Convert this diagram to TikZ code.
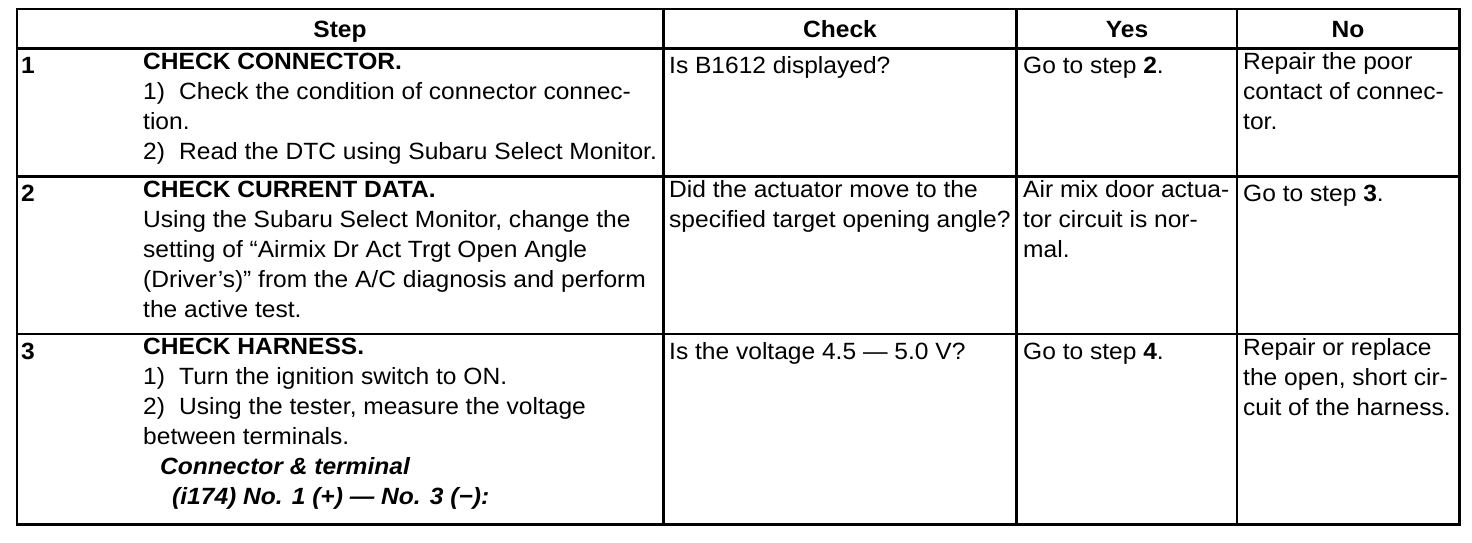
\documentclass[tikz,border=0pt]{standalone}
\usepackage{fontspec}
\setmainfont{Liberation Sans}[FakeStretch=1.045]
\usetikzlibrary{positioning}

\begin{document}
\begin{tikzpicture}[x=1pt,y=-1pt,
  cell/.style={anchor=north west,inner sep=0pt,align=left,font=\fontsize{23.5}{30}\selectfont,execute at begin node=\strut},
  head/.style={anchor=base,inner sep=0pt,font=\fontsize{23.5}{30}\selectfont\bfseries},
  num/.style={cell,font=\fontsize{23.5}{30}\selectfont\bfseries},
  rule/.style={line width=2.2pt}]
\useasboundingbox (0,0) rectangle (1472,542);

\draw[line width=2.8pt] (17,9) rectangle (1459.5,524.5);
\foreach \y in {48.5,176.5,334} {
\draw[rule] (17,\y) -- (1459.5,\y);
}
\foreach \x in {663.5,1016.5,1237} {
\draw[rule] (\x,9) -- (\x,524.5);
}

\node[head] (hstep) at (340,37) {Step};
\node[head] (hcheck) at (840,37) {Check};
\node[head] (hyes) at (1127,37) {Yes};
\node[head] (hno) at (1348,37) {No};

\node[num] (n1) at (21,52.5) {1};
\node[cell] (s1) at (143,52.5) {\textbf{CHECK CONNECTOR.}\\1)\hspace{0.6em}Check the condition of connector connec-\\tion.\\2)\hspace{0.6em}Read the DTC using Subaru Select Monitor.};
\node[cell] (c1) at (669,52.5) {Is B1612 displayed?};
\node[cell] (y1) at (1023,52.5) {Go to step \textbf{2}.};
\node[cell] (o1) at (1243,52.5) {Repair the poor\\contact of connec-\\tor.};

\node[num] (n2) at (21,180.5) {2};
\node[cell] (s2) at (143,180.5) {\textbf{CHECK CURRENT DATA.}\\Using the Subaru Select Monitor, change the\\setting of “Airmix Dr Act Trgt Open Angle\\(Driver’s)” from the A/C diagnosis and perform\\the active test.};
\node[cell] (c2) at (669,180.5) {Did the actuator move to the\\specified target opening angle?};
\node[cell] (y2) at (1023,180.5) {Air mix door actua-\\tor circuit is nor-\\mal.};
\node[cell] (o2) at (1243,180.5) {Go to step \textbf{3}.};

\node[num] (n3) at (21,338) {3};
\node[cell] (s3) at (143,338) {\textbf{CHECK HARNESS.}\\1)\hspace{0.6em}Turn the ignition switch to ON.\\2)\hspace{0.6em}Using the tester, measure the voltage\\between terminals.\\\hspace*{17pt}\textbf{\itshape Connector \& terminal}\\\hspace*{29pt}\textbf{\itshape (i174) No. 1 (+) — No. 3 (−):}};
\node[cell] (c3) at (669,338) {Is the voltage 4.5 — 5.0 V?};
\node[cell] (y3) at (1023,338) {Go to step \textbf{4}.};
\node[cell] (o3) at (1243,338) {Repair or replace\\the open, short cir-\\cuit of the harness.};
\end{tikzpicture}
\end{document}
